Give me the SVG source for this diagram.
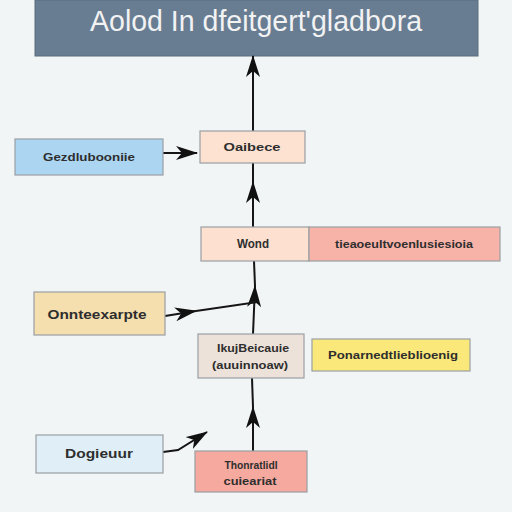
<svg xmlns="http://www.w3.org/2000/svg" width="512" height="512" viewBox="0 0 512 512">
<defs>
<marker id="ah" markerUnits="userSpaceOnUse" markerWidth="22" markerHeight="14" viewBox="0 0 22 14" refX="21" refY="7" orient="auto">
<path d="M0,0 L22,7 L0,14 L6,7 Z" fill="#111"/>
</marker>
</defs>
<style>
.box{stroke:#9a9fa3;stroke-width:1.2}
.t{font-family:"Liberation Sans","DejaVu Sans",sans-serif;font-weight:bold;fill:#2e2e2e;text-anchor:middle}
.c{stroke:#151515;stroke-width:2;fill:none}
</style>
<rect width="512" height="512" fill="#f2f5f5"/>
<g id="title">
<rect x="35" y="0" width="443" height="56" fill="#687d92" stroke="#5a6c7e"/>
<text x="256" y="31" font-family="Liberation Sans,sans-serif" font-size="29" fill="#f2f2f2" text-anchor="middle" textLength="332" lengthAdjust="spacingAndGlyphs">Aolod In dfeitgert'gladbora</text>
</g>
<g id="connectors">
<path class="c" d="M253 131 L253 56" marker-end="url(#ah)"/>
<path class="c" d="M253 227 L253 182" marker-end="url(#ah)"/>
<path class="c" d="M253 182 L253 163"/>
<path class="c" d="M163 153 L197 153" marker-end="url(#ah)"/>
<path class="c" d="M253 334 L255 286" marker-end="url(#ah)"/>
<path class="c" d="M255 286 L254 261"/>
<path class="c" d="M165 316 L196 311" marker-end="url(#ah)"/>
<path class="c" d="M196 311 L258 302"/>
<path class="c" d="M253 451 L253 407" marker-end="url(#ah)"/>
<path class="c" d="M253 407 L252 378"/>
<path class="c" d="M163 452 L178 450 L207 432" marker-end="url(#ah)"/>
</g>
<g id="n_gez">
<rect class="box" x="15" y="139" width="148" height="36" fill="#acd5f2"/>
<text class="t" x="89" y="161" font-size="11" textLength="92" lengthAdjust="spacingAndGlyphs">Gezdlubooniie</text>
</g>
<g id="n_oaibece">
<rect class="box" x="200" y="131" width="105" height="32" fill="#fde2d2"/>
<text class="t" x="252" y="151" font-size="11" textLength="57" lengthAdjust="spacingAndGlyphs">Oaibece</text>
</g>
<g id="n_wond">
<rect class="box" x="201" y="227" width="108" height="34" fill="#fde0cf"/>
<text class="t" x="253" y="248" font-size="12" textLength="32" lengthAdjust="spacingAndGlyphs">Wond</text>
</g>
<g id="n_tiea">
<rect class="box" x="309" y="227" width="191" height="34" fill="#f8b3a8"/>
<text class="t" x="404" y="248" font-size="11" textLength="138" lengthAdjust="spacingAndGlyphs">tieaoeultvoenlusiesioia</text>
</g>
<g id="n_onnte">
<rect class="box" x="34" y="292" width="131" height="43" fill="#f6dfae"/>
<text class="t" x="97" y="319" font-size="12" textLength="99" lengthAdjust="spacingAndGlyphs">Onnteexarpte</text>
</g>
<g id="n_ikuj">
<rect class="box" x="198" y="334" width="106" height="44" fill="#ede2da"/>
<text class="t" x="253" y="352" font-size="11" textLength="72" lengthAdjust="spacingAndGlyphs">IkujBeicauie</text>
<text class="t" x="250" y="369" font-size="11" textLength="76" lengthAdjust="spacingAndGlyphs">(auuinnoaw)</text>
</g>
<g id="n_ponar">
<rect class="box" x="312" y="339" width="158" height="32" fill="#fbe87a"/>
<text class="t" x="393" y="359" font-size="11" textLength="130" lengthAdjust="spacingAndGlyphs">Ponarnedtlieblioenig</text>
</g>
<g id="n_dog">
<rect class="box" x="36" y="435" width="127" height="38" fill="#e0eef7"/>
<text class="t" x="99" y="458" font-size="12" textLength="68" lengthAdjust="spacingAndGlyphs">Dogieuur</text>
</g>
<g id="n_thon">
<rect class="box" x="195" y="451" width="112" height="41" fill="#f6a99e"/>
<text class="t" x="251" y="469" font-size="11" textLength="53" lengthAdjust="spacingAndGlyphs">Thonratlidl</text>
<text class="t" x="250" y="485" font-size="11" textLength="53" lengthAdjust="spacingAndGlyphs">cuieariat</text>
</g>
</svg>
